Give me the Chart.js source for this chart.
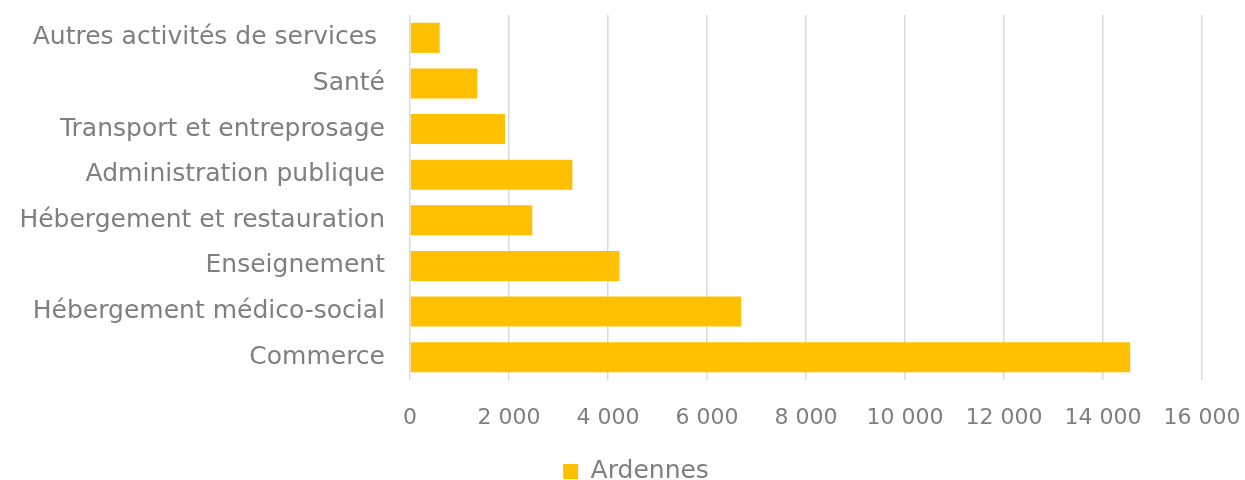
<!DOCTYPE html>
<html>
<head>
<meta charset="utf-8">
<script src="https://cdn.jsdelivr.net/npm/chart.js"></script>
<style>
    body { margin: 0; background: #fff; }
    #wrap { width: 1245px; height: 480px; }
</style>
</head>
<body>
<div id="wrap"><canvas id="sectorChart" width="1245" height="480"></canvas></div>
<script>
const categories = [
    "Autres activités de services ",
    "Santé",
    "Transport et entreprosage",
    "Administration publique",
    "Hébergement et restauration",
    "Enseignement",
    "Hébergement médico-social",
    "Commerce",
];
const ardennes = [600, 1360, 1920, 3280, 2470, 4230, 6690, 14550];
const xTicks = [0, 2000, 4000, 6000, 8000, 10000, 12000, 14000, 16000];

const grey = "#7f7f7f";
const fontFamily = "'DejaVu Sans', sans-serif";

// the y labels run left of the padded area, so widen the label clip box
const unclipLabels = {
    id: "unclipLabels",
    beforeDraw(chart) {
        chart.scales.y.left = 0;
    },
};

const ctx = document.getElementById("sectorChart").getContext("2d");

new Chart(ctx, {
    type: "bar",
    data: {
        labels: categories,
        datasets: [
            {
                label: "Ardennes",
                data: ardennes,
                backgroundColor: "#ffc000",
                borderWidth: 0,
                barPercentage: 0.66,
                categoryPercentage: 1,
            },
        ],
    },
    plugins: [unclipLabels],
    options: {
        indexAxis: "y",
        responsive: false,
        animation: false,
        layout: {
            padding: { top: 15, right: 43, left: 70, bottom: -14 },
        },
        plugins: {
            legend: {
                position: "bottom",
                labels: {
                    color: grey,
                    boxWidth: 15,
                    boxHeight: 15,
                    padding: 0,
                    font: { family: fontFamily, size: 25 },
                },
            },
            tooltip: { enabled: false },
        },
        scales: {
            x: {
                min: 0,
                max: 16000,
                afterBuildTicks: (axis) => {
                    axis.ticks = xTicks.map((v) => ({ value: v }));
                },
                afterFit: (axis) => {
                    axis.height = 79;
                },
                ticks: {
                    color: grey,
                    padding: 4,
                    font: { family: fontFamily, size: 22 },
                    callback: (v) => v.toString().replace(/\B(?=(\d{3})+(?!\d))/g, " "),
                },
                grid: {
                    color: "#d9d9d9",
                    lineWidth: 1.5,
                    drawTicks: true,
                    tickLength: 21,
                    tickColor: "rgba(0,0,0,0)",
                },
                border: { display: false },
            },
            y: {
                afterFit: (axis) => {
                    axis.width = 340;
                },
                ticks: {
                    color: grey,
                    padding: 0,
                    font: { family: fontFamily, size: 25 },
                },
                grid: {
                    display: true,
                    drawOnChartArea: false,
                    drawTicks: true,
                    tickLength: 25,
                    tickColor: "rgba(0,0,0,0)",
                },
                border: { display: false },
            },
        },
    },
});
</script>
</body>
</html>
